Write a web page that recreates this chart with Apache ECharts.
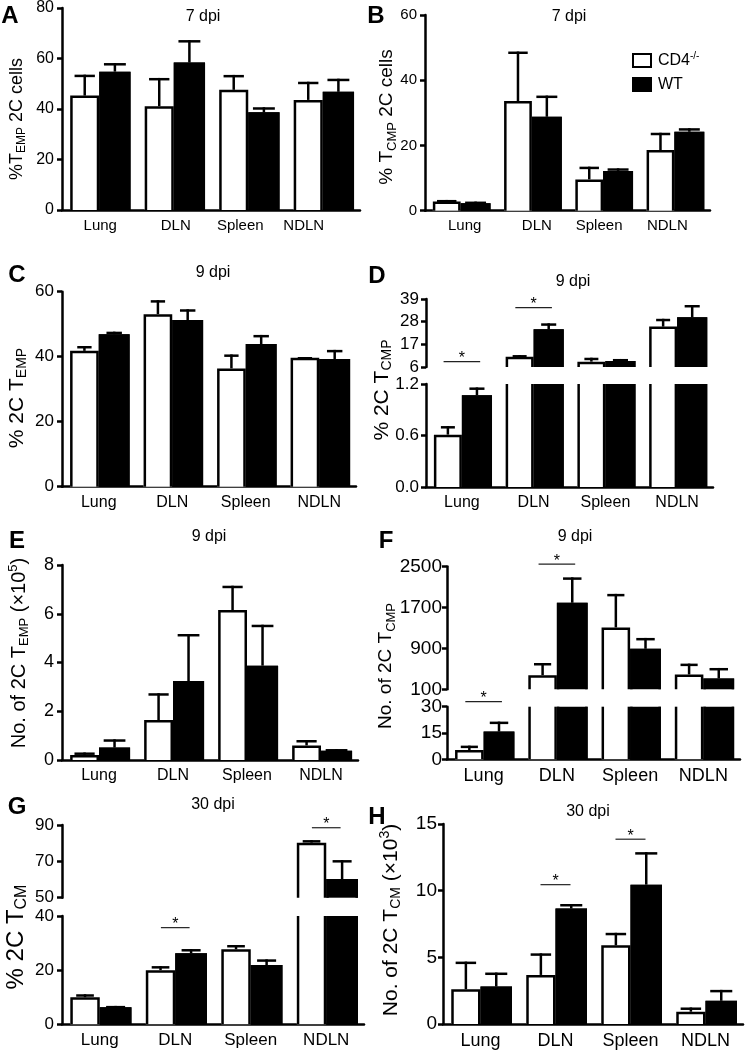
<!DOCTYPE html>
<html><head><meta charset="utf-8">
<script src="https://cdn.jsdelivr.net/npm/echarts@6/dist/echarts.min.js"></script>
<style>html,body{margin:0;padding:0;background:#fff}#c{width:746px;height:1050px}</style>
</head><body><div id="c"></div>
<script>
// ---------------- DATA ----------------
const categories = ['Lung', 'DLN', 'Spleen', 'NDLN'];

// A: 7 dpi, % TEMP 2C cells
const cd4A = [45.3, 41.1, 47.6, 43.6];
const cd4AErr = [8.3, 11.2, 5.9, 7.2];
const wtA = [54.8, 58.4, 38.7, 46.8];
const wtAErr = [3.4, 8.9, 2.0, 5.2];
const ticksA = [0, 20, 40, 60, 80];

// B: 7 dpi, % TCMP 2C cells
const cd4B = [2.8, 33.6, 9.6, 18.6];
const cd4BErr = [0.5, 15.2, 3.9, 5.3];
const wtB = [2.3, 28.8, 12.2, 24.2];
const wtBErr = [0.5, 6.5, 0.8, 1.1];
const ticksB = [0, 20, 40, 60];

// C: 9 dpi, % 2C TEMP
const cd4C = [41.8, 53.1, 36.4, 39.7];
const cd4CErr = [1.5, 4.3, 4.3, 0.2];
const wtC = [46.9, 51.3, 43.9, 39.3];
const wtCErr = [0.8, 3.3, 2.8, 2.8];
const ticksC = [0, 20, 40, 60];

// D: 9 dpi, % 2C TCMP (broken axis)
const cd4D = [0.61, 11.0, 8.6, 25.6];
const cd4DErr = [0.10, 0.8, 1.9, 3.8];
const wtD = [1.07, 24.3, 8.9, 30.1];
const wtDErr = [0.09, 2.9, 1.0, 6.0];
const ticksDTop = [6, 17, 28, 39];
const ticksDBottom = [0, 0.6, 1.2];
const sigDTop = [[0, 8.6], [1, 34.8]];

// E: 9 dpi, No. of 2C TEMP (x10^5)
const cd4E = [0.21, 1.64, 6.15, 0.60];
const cd4EErr = [0.10, 1.10, 1.00, 0.22];
const wtE = [0.51, 3.24, 3.87, 0.38];
const wtEErr = [0.34, 1.93, 1.68, 0.07];
const ticksE = [0, 2, 4, 6, 8];

// F: 9 dpi, No. of 2C TCMP (broken axis)
const cd4F = [5.3, 376, 1309, 390];
const cd4FErr = [2.5, 238, 656, 212];
const wtF = [15.8, 1791, 892, 312];
const wtFErr = [5.7, 497, 212, 205];
const ticksFTop = [100, 900, 1700, 2500];
const ticksFBottom = [0, 15, 30];
const sigFTop = [[1, 2545]];
const sigFBottom = [[0, 32.9]];

// G: 30 dpi, % 2C TCM (broken axis)
const cd4G = [10.0, 20.0, 27.7, 80.3];
const cd4GErr = [1.1, 1.5, 1.6, 1.4];
const wtG = [6.3, 26.2, 21.9, 60.3];
const wtGErr = [0.5, 1.6, 2.1, 10.4];
const ticksGTop = [50, 70, 90];
const ticksGBottom = [0, 20, 40];
const sigGTop = [[3, 88.5]];
const sigGBottom = [[1, 35.7]];

// H: 30 dpi, No. of 2C TCM (x10^3)
const cd4H = [2.61, 3.68, 5.9, 0.92];
const cd4HErr = [2.07, 1.62, 0.94, 0.32];
const wtH = [2.81, 8.66, 10.45, 1.74];
const wtHErr = [1.05, 0.34, 2.44, 0.82];
const ticksH = [0, 5, 10, 15];
const sigH = [[1, 10.45], [2, 13.86]];

const legendNames = ['CD4', 'WT'];

// ---------------- STYLE / LAYOUT ----------------
const FONT = '"Liberation Sans", Arial, Helvetica, sans-serif';
const SW = 2.5;

const segs = [
  {grid:{left:62, top:6.7, width:298, height:203.3}, ticks:ticksA, c:cd4A, ce:cd4AErr, w:wtA, we:wtAErr, cap:0.7, off:[1,2,-8,-19], tf:16, cf:15, tm:8},
  {grid:{left:425, top:15, width:285, height:195.7}, ticks:ticksB, c:cd4B, ce:cd4BErr, w:wtB, we:wtBErr, cap:0.7, off:[4,5,-4,-7], tf:15, cf:15, tm:8},
  {grid:{left:62, top:291.7, width:294, height:195}, ticks:ticksC, c:cd4C, ce:cd4CErr, w:wtC, we:wtCErr, cap:0.5, tf:17, cf:16, tm:8},
  {grid:{left:426, top:299, width:287, height:68}, ticks:ticksDTop, c:cd4D, ce:cd4DErr, w:wtD, we:wtDErr, cap:0.5, hideX:true, sig:sigDTop, sigHalf:0.255, tf:17, tm:7},
  {grid:{left:426, top:384, width:287, height:103}, ticks:ticksDBottom, c:cd4D, ce:cd4DErr, w:wtD, we:wtDErr, cap:0.5, fmt:v=>v.toFixed(1), tf:17, cf:16, tm:7},
  {grid:{left:62, top:565, width:296, height:195}, ticks:ticksE, c:cd4E, ce:cd4EErr, w:wtE, we:wtEErr, cap:0.7, tf:18, cf:16, tm:8},
  {grid:{left:447, top:566.5, width:293, height:122.8}, ticks:ticksFTop, c:cd4F, ce:cd4FErr, w:wtF, we:wtFErr, cap:0.6, hideX:true, sig:sigFTop, sigHalf:0.25, tf:19, tm:5},
  {grid:{left:447, top:706.7, width:293, height:52.6}, ticks:ticksFBottom, c:cd4F, ce:cd4FErr, w:wtF, we:wtFErr, cap:0.6, sig:sigFBottom, sigHalf:0.25, tf:19, cf:18, tm:5},
  {grid:{left:62, top:825, width:302, height:72.7}, ticks:ticksGTop, c:cd4G, ce:cd4GErr, w:wtG, we:wtGErr, cap:0.6, hideX:true, sig:sigGTop, sigHalf:0.19, tf:17, tm:8},
  {grid:{left:62, top:916, width:302, height:108.3}, ticks:ticksGBottom, c:cd4G, ce:cd4GErr, w:wtG, we:wtGErr, cap:0.6, sig:sigGBottom, sigHalf:0.19, tf:17, cf:17, tm:8},
  {grid:{left:443, top:824, width:300, height:201}, ticks:ticksH, c:cd4H, ce:cd4HErr, w:wtH, we:wtHErr, cap:0.7, sig:sigH, sigHalf:0.2, tf:19, cf:18, tm:6}
];

function barRender(side, fill, capFrac, barFrac) {
  return function (params, api) {
    const cs = params.coordSys;
    const yLimTop = cs.y, yLimBot = cs.y + cs.height;
    const cat = api.value(0), v = api.value(1), e = api.value(2);
    const band = api.size([1, 0])[0];
    const p0 = api.coord([cat, 0]);
    const pv = api.coord([cat, v]);
    const pe = api.coord([cat, v + e]);
    const w = band * barFrac;
    const x0 = side < 0 ? p0[0] - w : p0[0];
    const x1 = x0 + w;
    const yb = Math.min(p0[1], yLimBot);
    const yt = Math.max(pv[1], yLimTop);
    const children = [];
    if (yt >= yb) return {type: 'group', children};
    const h = SW / 2;
    const topVisible = pv[1] >= yLimTop;
    children.push({type: 'rect', shape: {x: x0, y: yt, width: w, height: yb - yt}, style: {fill: fill}});
    if (topVisible) {
      children.push({type: 'polyline', shape: {points: [[x0 + h, yb], [x0 + h, yt + h], [x1 - h, yt + h], [x1 - h, yb]]},
        style: {fill: 'none', stroke: '#000', lineWidth: SW, lineJoin: 'miter'}});
      const xc = (x0 + x1) / 2, cw = w * capFrac / 2;
      children.push({type: 'line', shape: {x1: xc, y1: pv[1], x2: xc, y2: pe[1]}, style: {stroke: '#000', lineWidth: SW}});
      children.push({type: 'line', shape: {x1: xc - cw, y1: pe[1] + h, x2: xc + cw, y2: pe[1] + h}, style: {stroke: '#000', lineWidth: SW}});
    } else {
      children.push({type: 'line', shape: {x1: x0 + h, y1: yb, x2: x0 + h, y2: yt}, style: {stroke: '#000', lineWidth: SW}});
      children.push({type: 'line', shape: {x1: x1 - h, y1: yb, x2: x1 - h, y2: yt}, style: {stroke: '#000', lineWidth: SW}});
    }
    return {type: 'group', children};
  };
}

function sigRender(halfFrac) {
  return function (params, api) {
    const cat = api.value(0), lv = api.value(1);
    const band = api.size([1, 0])[0];
    const p = api.coord([cat, lv]);
    const hw = band * halfFrac;
    return {type: 'group', children: [
      {type: 'line', shape: {x1: p[0] - hw, y1: p[1], x2: p[0] + hw, y2: p[1]}, style: {stroke: '#222', lineWidth: 1.2}},
      {type: 'text', x: p[0], y: p[1] - 3, style: {text: '*', fill: '#000', font: '16px ' + FONT,
        align: 'center', verticalAlign: 'middle', textAlign: 'center', textVerticalAlign: 'middle'}}
    ]};
  };
}

function catLabel(off, size) {
  const base = {show: true, interval: 0, fontSize: size, color: '#000', fontFamily: FONT, margin: 8};
  if (!off) return base;
  const rich = {};
  off.forEach((o, i) => {
    rich['o' + i] = {fontSize: size, color: '#000', fontFamily: FONT, padding: o >= 0 ? [0, 0, 0, 2 * o] : [0, -2 * o, 0, 0]};
  });
  return Object.assign(base, {formatter: (v, i) => '{o' + i + '|' + v + '}', rich});
}

const grid = [], xAxis = [], yAxis = [], series = [];
segs.forEach((s, i) => {
  grid.push(Object.assign({containLabel: false}, s.grid));
  xAxis.push({
    type: 'category', gridIndex: i, data: categories, boundaryGap: true,
    axisLine: {show: !s.hideX, onZero: false, lineStyle: {color: '#000', width: SW}},
    axisTick: {show: false},
    axisLabel: s.hideX ? {show: false} : catLabel(s.off, s.cf),
    splitLine: {show: false}
  });
  yAxis.push({
    type: 'value', gridIndex: i, min: s.ticks[0], max: s.ticks[s.ticks.length - 1],
    axisLine: {show: true, onZero: false, lineStyle: {color: '#000', width: SW}},
    axisTick: {show: true, length: 5, lineStyle: {color: '#000', width: SW}, customValues: s.ticks},
    axisLabel: {show: true, customValues: s.ticks, fontSize: s.tf, color: '#000', fontFamily: FONT, margin: s.tm,
      formatter: s.fmt || (v => String(v))},
    splitLine: {show: false}
  });
  series.push({
    type: 'custom', name: legendNames[0], xAxisIndex: i, yAxisIndex: i, silent: true, z: 3,
    renderItem: barRender(-1, '#fff', s.cap, 0.39),
    data: s.c.map((v, k) => [k, v, s.ce[k]])
  });
  series.push({
    type: 'custom', name: legendNames[1], xAxisIndex: i, yAxisIndex: i, silent: true, z: 3,
    renderItem: barRender(1, '#000', s.cap, 0.42),
    data: s.w.map((v, k) => [k, v, s.we[k]])
  });
  if (s.sig) {
    series.push({
      type: 'custom', xAxisIndex: i, yAxisIndex: i, silent: true, z: 4,
      renderItem: sigRender(s.sigHalf), data: s.sig
    });
  }
});

// ---------------- TEXT GRAPHICS ----------------
function richText(x, y, size, parts, rot) {
  const sub = Math.round(size * 0.66);
  const rich = {
    m: {fontSize: size, fontFamily: FONT, fill: '#000', lineHeight: size + 4},
    s: {fontSize: sub, fontFamily: FONT, fill: '#000', verticalAlign: 'bottom', lineHeight: sub + 2},
    p: {fontSize: sub, fontFamily: FONT, fill: '#000', verticalAlign: 'top', lineHeight: sub + 2}
  };
  return {
    type: 'text', x, y, rotation: rot || 0, z: 100,
    style: {text: parts.map(p => '{' + p[0] + '|' + p[1] + '}').join(''), rich, fill: '#000',
      align: 'center', verticalAlign: 'middle', textAlign: 'center', textVerticalAlign: 'middle'}
  };
}
function plainText(x, y, txt, font) {
  return {type: 'text', x, y, z: 100, style: {text: txt, font, fill: '#000',
    align: 'center', verticalAlign: 'middle', textAlign: 'center', textVerticalAlign: 'middle'}};
}

const R = Math.PI / 2;
const graphic = [
  richText(17, 119, 18, [['m', '%T'], ['s', 'EMP'], ['m', ' 2C cells']], R),
  richText(387, 117, 19, [['m', '% T'], ['s', 'CMP'], ['m', ' 2C cells']], R),
  richText(17, 398, 21, [['m', '% 2C T'], ['s', 'EMP']], R),
  richText(382, 390, 21, [['m', '% 2C T'], ['s', 'CMP']], R),
  richText(19, 653, 20, [['m', 'No. of 2C T'], ['s', 'EMP'], ['m', ' (×10'], ['p', '5'], ['m', ')']], R),
  richText(386, 666, 19, [['m', 'No. of 2C T'], ['s', 'CMP']], R),
  richText(16, 937, 24, [['m', '% 2C T'], ['s', 'CM']], R),
  richText(391, 920, 21, [['m', 'No. of 2C T'], ['s', 'CM'], ['m', ' (×10'], ['p', '3'], ['m', ')']], R),
];
[['7 dpi', 203, 17], ['7 dpi', 569, 17], ['9 dpi', 213, 273], ['9 dpi', 573, 282],
 ['9 dpi', 209, 537], ['9 dpi', 575, 537], ['30 dpi', 213, 805], ['30 dpi', 588, 812]]
  .forEach(t => graphic.push(plainText(t[1], t[2], t[0], '16px ' + FONT)));
[['A', 10, 16], ['B', 376, 16], ['C', 17, 275], ['D', 377, 276],
 ['E', 17, 541], ['F', 386, 541], ['G', 17, 807], ['H', 377, 817]]
  .forEach(t => graphic.push(plainText(t[1], t[2], t[0], 'bold 24px ' + FONT)));
// legend (panel B)
graphic.push({type: 'rect', z: 100, shape: {x: 633, y: 54, width: 18, height: 13}, style: {fill: '#fff', stroke: '#000', lineWidth: 2}});
graphic.push({type: 'rect', z: 100, shape: {x: 632, y: 77, width: 20, height: 15}, style: {fill: '#000'}});
graphic.push({type: 'text', x: 658, y: 61, z: 100, style: {
  text: '{m|' + legendNames[0] + '}{p|-/-}', fill: '#000', align: 'left', verticalAlign: 'middle', textAlign: 'left', textVerticalAlign: 'middle',
  rich: {m: {fontSize: 16, fontFamily: FONT, fill: '#000', lineHeight: 20}, p: {fontSize: 10, fontFamily: FONT, fill: '#000', verticalAlign: 'top', lineHeight: 12}}}});
graphic.push({type: 'text', x: 658, y: 85, z: 100, style: {text: legendNames[1], font: '16px ' + FONT, fill: '#000',
  align: 'left', verticalAlign: 'middle', textAlign: 'left', textVerticalAlign: 'middle'}});

const chart = echarts.init(document.getElementById('c'), null, {renderer: 'canvas', width: 746, height: 1050});
chart.setOption({
  backgroundColor: '#fff',
  animation: false,
  grid, xAxis, yAxis, series, graphic
});
</script>
</body></html>
